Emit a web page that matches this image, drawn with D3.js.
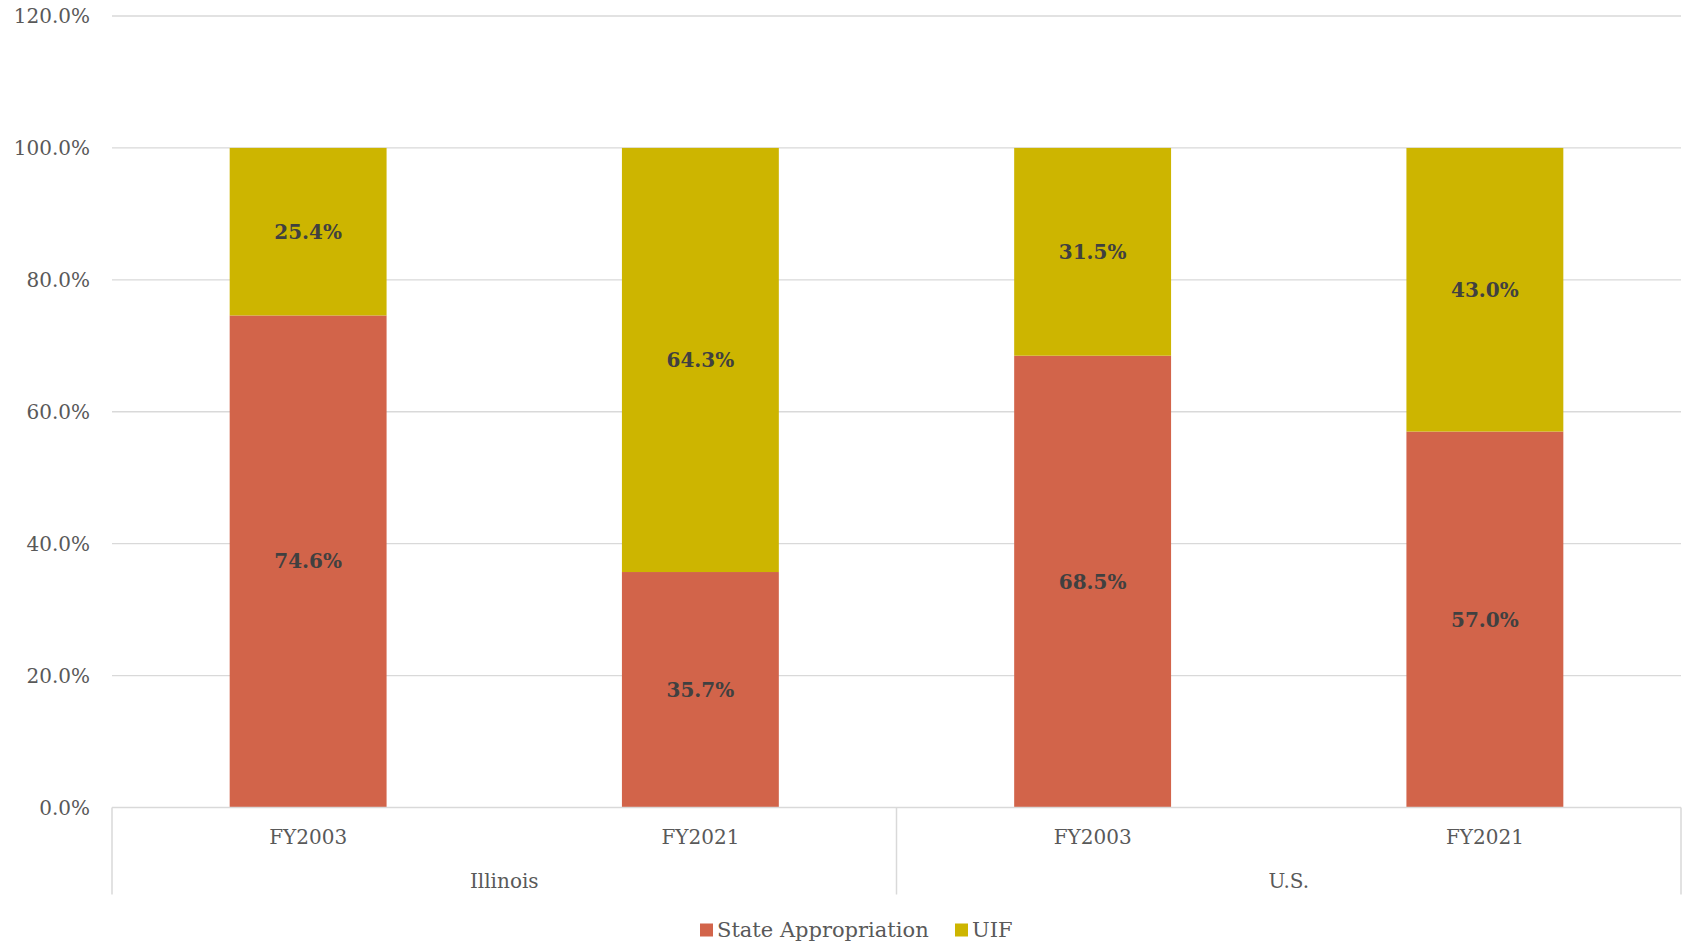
<!DOCTYPE html>
<html>
<head>
<meta charset="utf-8">
<script src="https://cdn.jsdelivr.net/npm/d3@7"></script>
<style>
  html, body { margin: 0; padding: 0; background: #ffffff; }
  svg { display: block; }
  text { font-family: Georgia, "DejaVu Serif", "Liberation Serif", serif; }
</style>
</head>
<body>
<svg id="chart" width="1688" height="944"></svg>
<script>
// Funding shares by year, grouped by region
const groups = ["Illinois", "U.S."];
const years = ["FY2003", "FY2021", "FY2003", "FY2021"];
const groupOf = ["Illinois", "Illinois", "U.S.", "U.S."];
const stateAppropriation = [74.6, 35.7, 68.5, 57.0];
const uif = [25.4, 64.3, 31.5, 43.0];
const seriesNames = ["State Appropriation", "UIF"];
const seriesColors = ["#D2644A", "#CDB500"];
const yTicks = [0, 20, 40, 60, 80, 100, 120];

const svg = d3.select("#chart");
const margin = { left: 112, right: 7, top: 16, bottom: 136.5 };
const W = 1688, H = 944;
const x0 = margin.left, x1 = W - margin.right;
const yBase = H - margin.bottom;
const FS = 20;

const rows = years.map((y, i) => ({
  key: i, year: y, group: groupOf[i],
  "State Appropriation": stateAppropriation[i],
  "UIF": uif[i]
}));

const x = d3.scaleBand()
  .domain(rows.map(d => d.key))
  .range([x0, x1])
  .paddingInner(0.6)
  .paddingOuter(0.3);

const y = d3.scaleLinear().domain([0, 120]).range([yBase, margin.top]);
const color = d3.scaleOrdinal().domain(seriesNames).range(seriesColors);

// Gridlines
svg.append("g")
  .selectAll("line")
  .data(yTicks.filter(t => t > 0))
  .join("line")
  .attr("x1", x0).attr("x2", x1)
  .attr("y1", d => y(d)).attr("y2", d => y(d))
  .attr("stroke", "#D9D9D9").attr("stroke-width", 1.3);

// Y axis labels
const yAxis = d3.axisLeft(y).tickValues(yTicks)
  .tickFormat(d => d3.format(".1f")(d) + "%")
  .tickSize(0).tickPadding(22);
const gy = svg.append("g").attr("transform", `translate(${x0},0)`).call(yAxis);
gy.select(".domain").remove();
gy.selectAll("text")
  .attr("fill", "#595959")
  .style("font-size", FS + "px")
  .attr("dy", "0.33em");

// Stacked bars
const stack = d3.stack().keys(seriesNames);
const layers = stack(rows);

svg.append("g")
  .selectAll("g")
  .data(layers)
  .join("g")
  .attr("fill", d => color(d.key))
  .selectAll("rect")
  .data(d => d)
  .join("rect")
  .attr("x", d => x(d.data.key))
  .attr("width", x.bandwidth())
  .attr("y", d => y(d[1]))
  .attr("height", d => y(d[0]) - y(d[1]));

// Value labels centred in each segment
layers.forEach(layer => {
  svg.append("g")
    .selectAll("text")
    .data(layer)
    .join("text")
    .attr("x", d => x(d.data.key) + x.bandwidth() / 2)
    .attr("y", d => y((d[0] + d[1]) / 2))
    .attr("dy", "0.35em")
    .attr("text-anchor", "middle")
    .attr("fill", "#404040")
    .style("font-size", FS + "px")
    .style("font-weight", "bold")
    .text(d => d3.format(".1f")(d.data[layer.key]) + "%");
});

// Category axis baseline
svg.append("line")
  .attr("x1", x0).attr("x2", x1)
  .attr("y1", yBase).attr("y2", yBase)
  .attr("stroke", "#D9D9D9").attr("stroke-width", 1.5);

// Group separators
const groupEdges = [x0, x0 + (x1 - x0) / 2, x1];
svg.append("g")
  .selectAll("line")
  .data(groupEdges)
  .join("line")
  .attr("x1", d => d).attr("x2", d => d)
  .attr("y1", yBase).attr("y2", yBase + 87)
  .attr("stroke", "#D9D9D9").attr("stroke-width", 1.5);

// Year labels
svg.append("g")
  .selectAll("text")
  .data(rows)
  .join("text")
  .attr("x", d => x(d.key) + x.bandwidth() / 2)
  .attr("y", yBase + 29)
  .attr("dy", "0.35em")
  .attr("text-anchor", "middle")
  .attr("fill", "#595959")
  .style("font-size", FS + "px")
  .text(d => d.year);

// Group labels
svg.append("g")
  .selectAll("text")
  .data(groups)
  .join("text")
  .attr("x", (d, i) => (groupEdges[i] + groupEdges[i + 1]) / 2)
  .attr("y", yBase + 73)
  .attr("dy", "0.35em")
  .attr("text-anchor", "middle")
  .attr("fill", "#595959")
  .style("font-size", FS + "px")
  .text(d => d);

// Legend
const legend = svg.append("g");
const legendY = 930;
const items = [{ name: "State Appropriation", x: 700 }, { name: "UIF", x: 955 }];
items.forEach(it => {
  legend.append("rect")
    .attr("x", it.x).attr("y", legendY - 6.5)
    .attr("width", 13).attr("height", 13)
    .attr("fill", color(it.name));
  legend.append("text")
    .attr("x", it.x + 17).attr("y", legendY)
    .attr("dy", "0.35em")
    .attr("fill", "#595959")
    .style("font-size", (FS + 1) + "px")
    .text(it.name);
});
</script>
</body>
</html>
